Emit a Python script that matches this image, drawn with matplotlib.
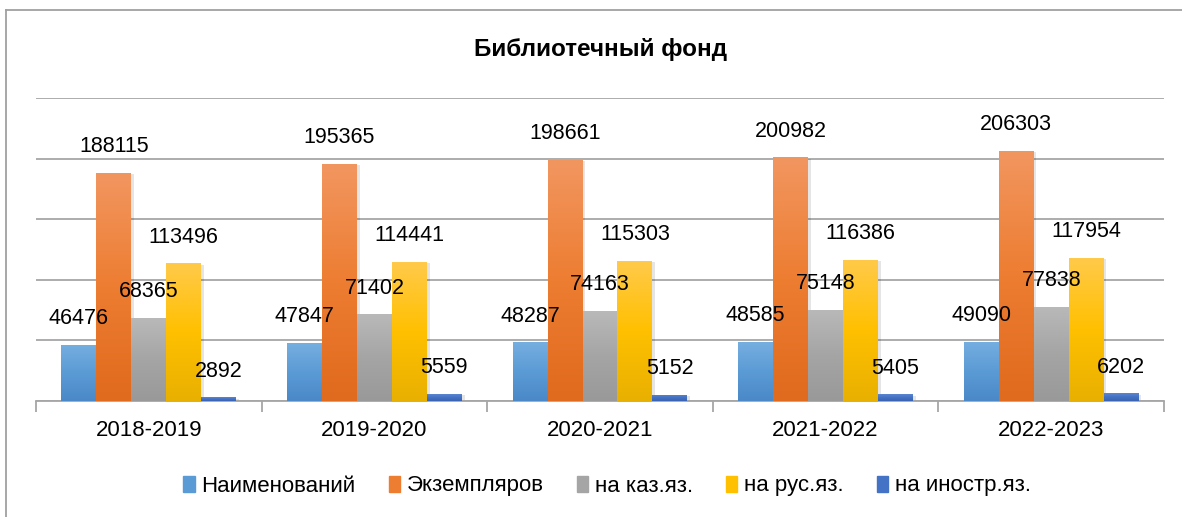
import numpy as np
import matplotlib
matplotlib.use('Agg')
import matplotlib.pyplot as plt
import matplotlib.colors as mcolors
from matplotlib.lines import Line2D
from matplotlib.patches import Rectangle

plt.rcParams['font.family'] = ['Liberation Sans', 'DejaVu Sans']

# data
years = ['2018-2019', '2019-2020', '2020-2021', '2021-2022', '2022-2023']
naimen = [46476, 47847, 48287, 48585, 49090]
ekzem = [188115, 195365, 198661, 200982, 206303]
kaz = [68365, 71402, 74163, 75148, 77838]
rus = [113496, 114441, 115303, 116386, 117954]
inostr = [2892, 5559, 5152, 5405, 6202]
series_names = ['Наименований', 'Экземпляров', 'на каз.яз.', 'на рус.яз.', 'на иностр.яз.']
series = [naimen, ekzem, kaz, rus, inostr]
# (top, middle, bottom) gradient colours
grads = [('#76aee0', '#5b9bd5', '#4a88c8'),
         ('#f29660', '#ed7d31', '#e06a1e'),
         ('#b9b9b9', '#a5a5a5', '#999999'),
         ('#ffca4a', '#ffc000', '#e8b000'),
         ('#5a85d0', '#4472c4', '#3a63b0')]

W, H = 1182, 517
fig = plt.figure(figsize=(W / 100, H / 100), dpi=100)
ax = fig.add_axes([36 / W, 1 - 401 / H, (1164 - 36) / W, (401 - 98) / H])

n = len(series)
x = np.arange(len(years))
bw = 0.155
grad = np.linspace(0, 1, 256).reshape(-1, 1)

for i, (vals, g) in enumerate(zip(series, grads)):
    cmap = mcolors.LinearSegmentedColormap.from_list('g%d' % i, [g[2], g[1], g[0]])
    offs = (i - (n - 1) / 2) * bw
    bars = ax.bar(x + offs, vals, width=bw, color=g[1], zorder=3, linewidth=0)
    for b, v in zip(bars, vals):
        x0, w, h = b.get_x(), b.get_width(), b.get_height()
        # soft shadow
        ax.add_patch(Rectangle((x0 + 0.012, 0), w, h - 900, color='#000000',
                               alpha=0.10, zorder=2, linewidth=0))
        im = ax.imshow(grad, cmap=cmap, aspect='auto', origin='lower',
                       extent=[x0, x0 + w, 0, h], zorder=3.5)
        im.set_clip_path(b)
        ax.annotate(str(v), (x0 + w / 2, h), xytext=(0, 19), textcoords='offset points',
                    ha='center', va='center', fontsize=15.5, color='#000000', zorder=5)

ax.set_xlim(-0.5, len(years) - 0.5)
ax.set_ylim(0, 250000)
ax.set_yticks(np.arange(0, 250001, 50000))
ax.yaxis.grid(True, color='#a6a6a6', linewidth=1.3, zorder=0)
ax.set_axisbelow(True)
ax.tick_params(axis='y', left=False, labelleft=False)
for s in ['left', 'right', 'top']:
    ax.spines[s].set_visible(False)
ax.spines['bottom'].set_color('#a6a6a6')
ax.spines['bottom'].set_linewidth(1.3)
ax.set_xticks(x)
ax.set_xticklabels(years, fontsize=16, color='#000000')
ax.tick_params(axis='x', length=0, pad=14)
ax.set_xticks(np.arange(-0.5, len(years), 1), minor=True)
ax.tick_params(axis='x', which='minor', length=8, color='#a6a6a6', width=1.3)

fig.text(601 / W, 1 - 50 / H, 'Библиотечный фонд', ha='center', va='center',
         fontsize=17.5, fontweight='bold', color='#000000')

handles = [Rectangle((0, 0), 1, 1, color=g[1]) for g in grads]
fig.legend(handles, series_names, loc='center', bbox_to_anchor=(607 / W, 1 - 486 / H),
           ncol=5, frameon=False, fontsize=16, handlelength=0.5, handleheight=0.7,
           handletextpad=0.3, columnspacing=1.5)

# outer chart border (top and left only, as cropped)
fig.add_artist(Line2D([6 / W, 1], [1 - 10 / H, 1 - 10 / H], color='#a0a0a0', linewidth=1.3))
fig.add_artist(Line2D([6 / W, 6 / W], [0, 1 - 10 / H], color='#a0a0a0', linewidth=1.3))

fig.savefig('out.png', dpi=100)
